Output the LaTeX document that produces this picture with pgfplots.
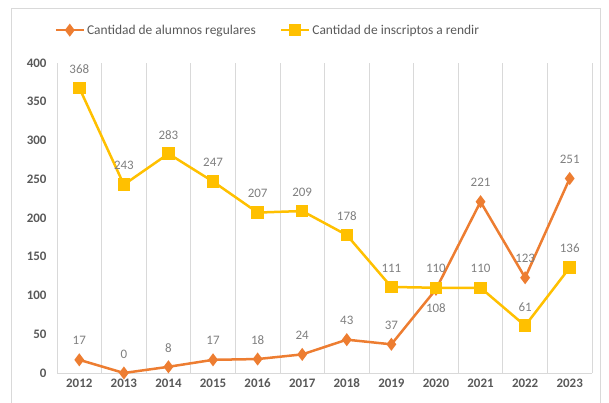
\documentclass[border=0pt]{standalone}
\usepackage{pgfplots}
\pgfplotsset{compat=1.18}
\usepackage{pgfplotstable}
\usepackage{fontspec}
\setmainfont{Carlito}
\definecolor{orng}{HTML}{ED7D31}
\definecolor{yel}{HTML}{FFC000}
\definecolor{lbl}{HTML}{7F7F7F}
\definecolor{tickc}{HTML}{595959}
\definecolor{gridc}{HTML}{D9D9D9}

\pgfplotstableread{
x y dy
0 17 19
1 0 19
2 8 19
3 17 19
4 18 19
5 24 19
6 43 19
7 37 19
8 108 -19
9 221 19
10 123 19
11 251 19
}\alumnos

\pgfplotstableread{
x y dy
0 368 19
1 243 19
2 283 19
3 247 19
4 207 19
5 209 19
6 178 19
7 111 19
8 110 19
9 110 19
10 61 19
11 136 19
}\inscriptos

\begin{document}
\begin{tikzpicture}
\path[use as bounding box] (0bp,0bp) rectangle (609bp,403bp);
\draw[gridc,line width=0.8bp] (11bp,0bp)--(11bp,395bp)--(600bp,395bp)--(600bp,0bp);
\begin{axis}[
  at={(57bp,30bp)}, anchor=south west,
  scale only axis, width=535bp, height=310bp,
  xmin=-0.5, xmax=11.5, ymin=0, ymax=400,
  xtick={0,...,11},
  xticklabels={2012,2013,2014,2015,2016,2017,2018,2019,2020,2021,2022,2023},
  minor xtick={-0.5,0.5,...,11.5},
  xminorgrids=true,
  minor grid style={gridc, line width=0.8bp},
  ytick={0,50,...,400},
  major tick length=0pt, minor tick length=0pt,
  axis x line=bottom, axis y line=left,
  axis line style={-},
  x axis line style={gridc, line width=0.8bp},
  y axis line style={draw=none},
  tick label style={font=\bfseries\fontsize{13}{13}\selectfont, text=tickc},
  yticklabel style={xshift=-7bp},
  xticklabel style={yshift=-2bp},
  /pgf/number format/assume math mode=true,
  clip=false,
  legend columns=2,
  legend style={draw=none, fill=none, at={(0.394,1.106)}, anchor=center,
    font=\fontsize{13.5}{14}\selectfont, text=tickc,
    /tikz/every even column/.append style={column sep=22bp}},
  legend image code/.code={\draw[mark repeat=2,mark phase=2,#1] plot coordinates {(0bp,0bp) (14bp,0bp) (28bp,0bp)};},
]
\addplot[orng, line width=2.5bp, mark=diamond*, mark size=4.5bp, mark options={solid, fill=orng},
  visualization depends on={\thisrow{dy} \as \dy},
  nodes near coords,
  nodes near coords style={font=\fontsize{13}{13}\selectfont, text=lbl, anchor=center, yshift=\dy*1bp},
  ] table[x=x,y=y] {\alumnos};
\addlegendentry{Cantidad de alumnos regulares}
\addplot[yel, line width=2.5bp, mark=square*, mark size=5bp, mark options={solid, fill=yel},
  nodes near coords,
  nodes near coords style={font=\fontsize{13}{13}\selectfont, text=lbl, anchor=center, yshift=19bp},
  ] table[x=x,y=y] {\inscriptos};
\addlegendentry{Cantidad de inscriptos a rendir}
\end{axis}
\end{tikzpicture}
\end{document}
